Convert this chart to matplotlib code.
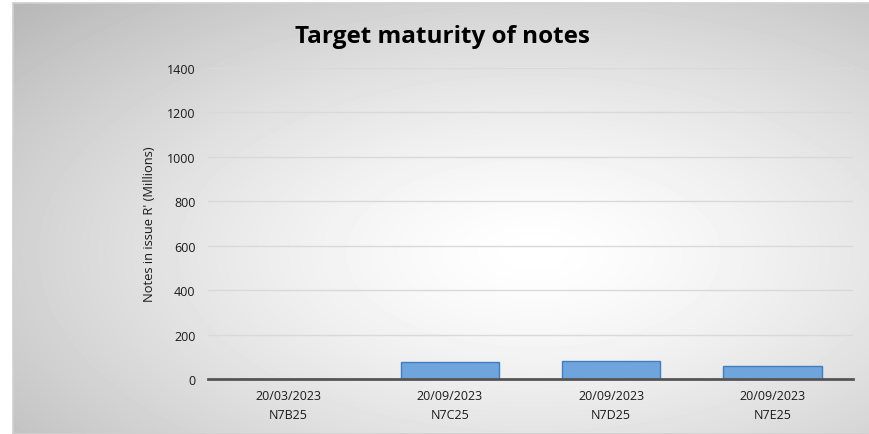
import matplotlib.pyplot as plt
import numpy as np

# Chart data
dates = ["20/03/2023", "20/09/2023", "20/09/2023", "20/09/2023"]
notes = ["N7B25", "N7C25", "N7D25", "N7E25"]
amounts = [0, 75, 80, 60]

plt.rcParams["font.family"] = ["Open Sans", "DejaVu Sans"]

fig = plt.figure(figsize=(8.7, 4.35), dpi=100)

# Chart area with a radial gradient (white centre, grey edges)
bg = fig.add_axes([13 / 870, 0, 857 / 870, 431 / 435])
yy, xx = np.mgrid[0:431, 0:857]
dist = np.sqrt(((xx - 520) / 520.0) ** 2 + ((yy - 250) / 260.0) ** 2)
shade = 1.0 - 0.26 * np.clip(dist / 1.3, 0, 1.05) ** 1.4
bg.imshow(shade, cmap="gray", vmin=0, vmax=1, aspect="auto", extent=[0, 1, 0, 1])
bg.set_xticks([])
bg.set_yticks([])
for s in bg.spines.values():
    s.set_color("#d0d0d0")
    s.set_linewidth(1.2)

ax = fig.add_axes([208 / 870, 55 / 435, 645 / 870, 311 / 435])
ax.patch.set_alpha(0)

x = np.arange(len(notes))
ax.bar(x, amounts, width=0.61, color="#6fa4dc", edgecolor="#3f7fbf", linewidth=1, zorder=3)

ax.set_xlim(-0.5, len(notes) - 0.5)
ax.set_ylim(0, 1400)
ax.set_yticks(range(0, 1401, 200))
ax.set_xticks(x)
ax.set_xticklabels([d + "\n" + n for d, n in zip(dates, notes)], fontsize=9, linespacing=1.6)
ax.tick_params(axis="both", length=0, labelsize=9, colors="#1a1a1a")
ax.tick_params(axis="x", pad=7)
ax.tick_params(axis="y", pad=9)

ax.grid(axis="y", color="#d9d9d9", linewidth=1, zorder=0)
for side in ["top", "right", "left"]:
    ax.spines[side].set_visible(False)
ax.spines["bottom"].set_color("#555555")
ax.spines["bottom"].set_linewidth(2)
ax.spines["bottom"].set_zorder(4)

ax.set_ylabel("Notes in issue R' (Millions)", fontsize=9.3, labelpad=8, color="#1a1a1a")

fig.text(442 / 870, 1 - 37 / 435, "Target maturity of notes", fontsize=17.5, fontweight="bold",
         ha="center", va="center")

fig.savefig("out.png", dpi=100)
